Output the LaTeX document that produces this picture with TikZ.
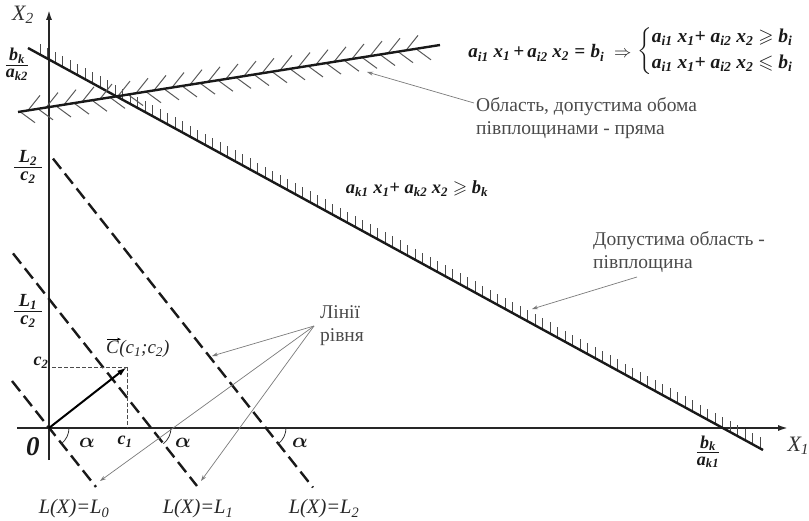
\documentclass[tikz,border=0pt]{standalone}
\usepackage{amsmath,amssymb}
\usepackage{fontspec}
\setmainfont{Liberation Serif}
\usetikzlibrary{arrows.meta}
\newcommand{\sbs}[1]{\textsubscript{#1}}
\newcommand{\fm}{\bfseries\itshape}
\definecolor{txtgray}{HTML}{4A4A4A}
\definecolor{ptrgray}{HTML}{7A7A7A}
\tikzset{
  axisline/.style={line width=2.6pt, draw=black!85, -{Latex[length=11pt,width=6pt]}},
  bound/.style={line width=2.4pt, draw=black!90},
  levelline/.style={line width=2.4pt, draw=black!90, dash pattern=on 13pt off 6pt},
  hatchk/.style={line width=1pt, draw=black!70},
  hatchi/.style={line width=1pt, draw=black!65},
  projline/.style={line width=0.8pt, draw=black!70, dash pattern=on 4pt off 2pt},
  ptr/.style={line width=0.7pt, draw=ptrgray, -{Stealth[length=6pt,width=4pt]}},
  uk/.style={text=txtgray, font=\fontsize{19.5}{23}\selectfont, align=left},
  frm/.style={text=black!90, font=\fontsize{18}{20}\selectfont\fm, inner sep=1pt},
  fnum/.style={text=black!90, font=\fontsize{18}{20}\selectfont\fm, inner sep=0pt, anchor=base},
  fbar/.style={line width=0.8pt, draw=black!90},
  lbl/.style={text=black!85, font=\fontsize{20.5}{22}\selectfont\itshape, inner sep=1pt},
  alph/.style={text=black!90, font=\fontsize{20}{20}\selectfont, inner sep=0pt},
  anglearc/.style={line width=0.8pt, draw=black!80}
}
\begin{document}
\begin{tikzpicture}[x=1pt,y=-1pt]
\useasboundingbox (0,0) rectangle (809,521);
% axes
\coordinate (O) at (49,428);
\coordinate (ybot) at (49,460);
\coordinate (ytop) at (49,9);
\coordinate (xleft) at (17,428);
\coordinate (xright) at (789,428);
\draw[axisline] (ybot) -- (ytop);
\draw[axisline] (xleft) -- (xright);
% line k with vertical hatch ticks
\coordinate (K1) at (28,48);
\coordinate (K2) at (763,450);
\foreach \x in {40,47.5,...,760} {
  \pgfmathsetmacro\yy{48+(\x-28)*0.546939}
  \draw[hatchk] (\x,\yy) -- ++(0,-11);
}
\draw[bound] (K1) -- (K2);
% line i with hatches on both sides
\coordinate (I1) at (18,112);
\coordinate (I2) at (440,45);
\foreach \x in {28,46,...,420} {
  \pgfmathsetmacro\yy{112-(\x-18)*0.158768}
  \draw[hatchi] (\x,\yy) -- ++(12,-15);
}
\foreach \x in {20,38,...,418} {
  \pgfmathsetmacro\yy{112-(\x-18)*0.158768}
  \draw[hatchi] (\x,\yy) -- ++(15,11);
}
\draw[bound] (I1) -- (I2);
% level lines
\coordinate (A0) at (12,381);
\coordinate (B0) at (96,487);
\coordinate (A1) at (13,253.4);
\coordinate (B1) at (197,486);
\coordinate (A2) at (53,158.6);
\coordinate (B2) at (313,487.5);
\draw[levelline] (A0) -- (B0);
\draw[levelline] (A1) -- (B1);
\draw[levelline] (A2) -- (B2);
% vector C
\coordinate (Cp) at (127,367);
\coordinate (Cy) at (52,367);
\coordinate (Cx) at (127,428);
\draw[projline] (Cy) -- (Cp);
\draw[projline] (Cp) -- (Cx);
\draw[line width=2pt, -{Latex[length=10pt,width=6pt]}] (O) -- (Cp);
% angle arcs
\coordinate (X0) at (49,428);
\coordinate (X1c) at (151,428);
\coordinate (X2c) at (266,428);
\foreach \p in {X0,X1c,X2c} {
  \draw[anglearc] (\p) ++(20pt,0pt) arc[start angle=0, end angle=-51.7, radius=20pt];
}
\node[alph] (al0) at (87,443) {$\boldsymbol{\alpha}$};
\node[alph] (al1) at (183,443) {$\boldsymbol{\alpha}$};
\node[alph] (al2) at (300,443) {$\boldsymbol{\alpha}$};
% axis labels
\node[text=black!80, font=\fontsize{22}{22}\selectfont\itshape] (x2lab) at (23,15) {X\sbs{2}};
\node[text=black!80, font=\fontsize{22}{22}\selectfont\itshape, anchor=west] (x1lab) at (784,446) {X\sbs{1}};
\node[text=black!90, font=\fontsize{27}{27}\selectfont\bfseries\itshape, inner sep=0pt] (zero) at (33,447) {0};
\node[frm] (c2lab) at (41,363) {c\sbs{2}};
\node[frm] (c1lab) at (125,442) {c\sbs{1}};
% fractions
\node[fnum] (fk2n) at (17,61) {b\sbs{k}};
\node[fnum] (fk2d) at (17,78) {a\sbs{k2}};
\draw[fbar] (fk2d.west |- 0,65) coordinate (fk2bl) -- (fk2d.east |- 0,65) coordinate (fk2br);
\node[fnum] (fk1n) at (708,448) {b\sbs{k}};
\node[fnum] (fk1d) at (708,465) {a\sbs{k1}};
\draw[fbar] (fk1d.west |- 0,452) coordinate (fk1bl) -- (fk1d.east |- 0,452) coordinate (fk1br);
\node[fnum, font=\fontsize{18.5}{20}\selectfont\fm] (fL2n) at (28,163) {L\sbs{2}};
\node[fnum, font=\fontsize{18.5}{20}\selectfont\fm] (fL2d) at (28,181) {c\sbs{2}};
\draw[fbar] (14,167.5) coordinate (fL2bl) -- (42,167.5) coordinate (fL2br);
\node[fnum, font=\fontsize{18.5}{20}\selectfont\fm] (fL1n) at (28,307) {L\sbs{1}};
\node[fnum, font=\fontsize{18.5}{20}\selectfont\fm] (fL1d) at (28,325) {c\sbs{2}};
\draw[fbar] (14,311.5) coordinate (fL1bl) -- (42,311.5) coordinate (fL1br);
% vector label
\node[lbl, font=\fontsize{19}{19}\selectfont\itshape, anchor=base west, inner sep=0pt] (Cletter) at (106,354) {C};
\node[lbl, font=\fontsize{19}{19}\selectfont\itshape, anchor=base west, inner sep=0pt] (Cargs) at (Cletter.base east) {(c\sbs{1};c\sbs{2})};
\draw[line width=0.7pt, -{Stealth[length=4pt,width=3pt]}] ([xshift=1pt,yshift=2pt]Cletter.north west) coordinate (vs) -- ([xshift=2pt,yshift=2pt]Cletter.north east) coordinate (ve);
% bottom labels
\node[lbl] (lab0) at (74,509) {L(X)=L\sbs{0}};
\node[lbl] (lab1) at (198,509) {L(X)=L\sbs{1}};
\node[lbl] (lab2) at (324,509) {L(X)=L\sbs{2}};
% formulas
\node[frm, font=\fontsize{19}{20}\selectfont\fm] (fi) at (550,53) {a\sbs{i1} x\sbs{1}\,+\,a\sbs{i2} x\sbs{2}\;=\;b\sbs{i}\; $\Rightarrow$};
\node[frm, font=\fontsize{19.5}{21}\selectfont\fm, anchor=west] (sys) at (636,51) {$\left\{\begin{tabular}{@{}l@{}}a\sbs{i1} x\sbs{1}+ a\sbs{i2} x\sbs{2} $\geqslant$ b\sbs{i}\\[5pt] a\sbs{i1} x\sbs{1}+ a\sbs{i2} x\sbs{2} $\leqslant$ b\sbs{i}\end{tabular}\right.$};
\node[frm, font=\fontsize{18.5}{20}\selectfont\fm] (fk) at (417,189) {a\sbs{k1} x\sbs{1}+ a\sbs{k2} x\sbs{2} $\geqslant$ b\sbs{k}};
% Ukrainian texts
\node[uk, anchor=north west, inner sep=0pt] (both) at (476,97) {Область, допустима обома\\півплощинами - пряма};
\node[uk, anchor=north west, inner sep=0pt] (half) at (593,231) {Допустима область -\\півплощина};
\node[uk, anchor=center, inner sep=0pt] (levels) at (342,326) {Лінії\\рівня};
% pointers
\coordinate (pb) at (474,103);
\coordinate (pbe) at (367,72);
\draw[ptr] (pb) -- (pbe);
\coordinate (ph) at (637,277);
\coordinate (phe) at (532,309);
\draw[ptr] (ph) -- (phe);
\coordinate (pl) at (314,326);
\coordinate (pl2) at (212,356);
\coordinate (pl1) at (201,481);
\coordinate (pl0) at (100,481);
\draw[ptr] (pl) -- (pl2);
\draw[ptr] (pl) -- (pl1);
\draw[ptr] (pl) -- (pl0);
\end{tikzpicture}
\end{document}
